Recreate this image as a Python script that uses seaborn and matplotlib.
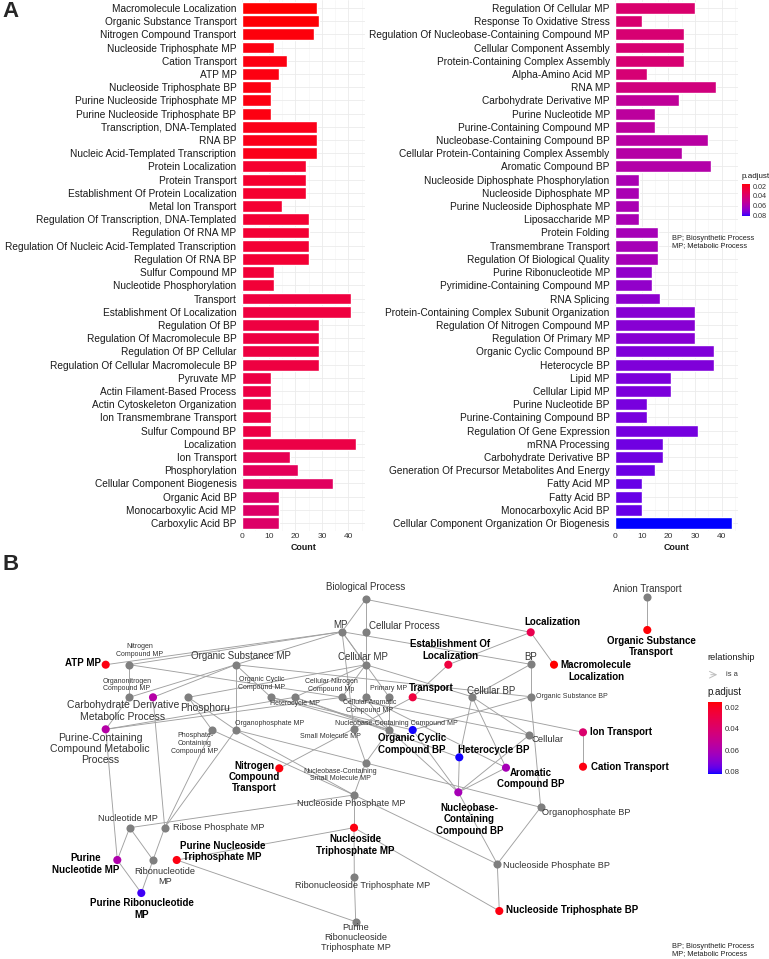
import numpy as np
import pandas as pd
import matplotlib
matplotlib.use("Agg")
import matplotlib.pyplot as plt
import seaborn as sns
from matplotlib.colors import ListedColormap, Normalize

# ---------------- Panel A data ----------------
left_terms = [
    "Macromolecule Localization", "Organic Substance Transport", "Nitrogen Compound Transport",
    "Nucleoside Triphosphate MP", "Cation Transport", "ATP MP", "Nucleoside Triphosphate BP",
    "Purine Nucleoside Triphosphate MP", "Purine Nucleoside Triphosphate BP",
    "Transcription, DNA-Templated", "RNA BP", "Nucleic Acid-Templated Transcription",
    "Protein Localization", "Protein Transport", "Establishment Of Protein Localization",
    "Metal Ion Transport", "Regulation Of Transcription, DNA-Templated", "Regulation Of RNA MP",
    "Regulation Of Nucleic Acid-Templated Transcription", "Regulation Of RNA BP",
    "Sulfur Compound MP", "Nucleotide Phosphorylation", "Transport", "Establishment Of Localization",
    "Regulation Of BP", "Regulation Of Macromolecule BP", "Regulation Of BP Cellular",
    "Regulation Of Cellular Macromolecule BP", "Pyruvate MP", "Actin Filament-Based Process",
    "Actin Cytoskeleton Organization", "Ion Transmembrane Transport", "Sulfur Compound BP",
    "Localization", "Ion Transport", "Phosphorylation", "Cellular Component Biogenesis",
    "Organic Acid BP", "Monocarboxylic Acid MP", "Carboxylic Acid BP"]
left_counts = [28, 29, 27, 12, 17, 14, 11, 11, 11, 28, 28, 28, 24, 24, 24, 15, 25, 25, 25, 25,
               12, 12, 41, 41, 29, 29, 29, 29, 11, 11, 11, 11, 11, 43, 18, 21, 34, 14, 14, 14]
left_padj = [0.0144, 0.0151, 0.0158, 0.0164, 0.0164, 0.0164, 0.0164, 0.0164, 0.0164,
             0.0178, 0.0178, 0.0178, 0.0226, 0.0226, 0.0226, 0.0233, 0.0239, 0.0239, 0.0239, 0.0239,
             0.0246, 0.0246, 0.0267, 0.0267, 0.0273, 0.0273, 0.0273, 0.0273,
             0.0280, 0.0280, 0.0280, 0.0280, 0.0280, 0.0287, 0.0321, 0.0342, 0.0362,
             0.0382, 0.0382, 0.0382]

right_terms = [
    "Regulation Of Cellular MP", "Response To Oxidative Stress",
    "Regulation Of Nucleobase-Containing Compound MP", "Cellular Component Assembly",
    "Protein-Containing Complex Assembly", "Alpha-Amino Acid MP", "RNA MP",
    "Carbohydrate Derivative MP", "Purine Nucleotide MP", "Purine-Containing Compound MP",
    "Nucleobase-Containing Compound BP", "Cellular Protein-Containing Complex Assembly",
    "Aromatic Compound BP", "Nucleoside Diphosphate Phosphorylation", "Nucleoside Diphosphate MP",
    "Purine Nucleoside Diphosphate MP", "Liposaccharide MP", "Protein Folding",
    "Transmembrane Transport", "Regulation Of Biological Quality", "Purine Ribonucleotide MP",
    "Pyrimidine-Containing Compound MP", "RNA Splicing",
    "Protein-Containing Complex Subunit Organization", "Regulation Of Nitrogen Compound MP",
    "Regulation Of Primary MP", "Organic Cyclic Compound BP", "Heterocycle BP", "Lipid MP",
    "Cellular Lipid MP", "Purine Nucleotide BP", "Purine-Containing Compound BP",
    "Regulation Of Gene Expression", "mRNA Processing", "Carbohydrate Derivative BP",
    "Generation Of Precursor Metabolites And Energy", "Fatty Acid MP", "Fatty Acid BP",
    "Monocarboxylic Acid BP", "Cellular Component Organization Or Biogenesis"]
right_counts = [30, 10, 26, 26, 26, 12, 38, 24, 15, 15, 35, 25, 36, 9, 9, 9, 9, 16, 16, 16,
                14, 14, 17, 30, 30, 30, 37, 37, 21, 21, 12, 12, 31, 18, 18, 15, 10, 10, 10, 44]
right_padj = [0.0403, 0.0410, 0.0416, 0.0416, 0.0416, 0.0423, 0.0450, 0.0530, 0.0545, 0.0545,
              0.0560, 0.0567, 0.0575, 0.0607, 0.0607, 0.0607, 0.0607, 0.0621, 0.0621, 0.0621,
              0.0675, 0.0675, 0.0689, 0.0702, 0.0702, 0.0702, 0.0716, 0.0716, 0.0723, 0.0723,
              0.0730, 0.0730, 0.0736, 0.0743, 0.0743, 0.0750, 0.0757, 0.0757, 0.0757, 0.0825]

padj_range = (0.0144, 0.0825)
padj_ticks = [0.02, 0.04, 0.06, 0.08]

# ---------------- Panel B data (GO graph) ----------------
node_ids = ["BioProc", "MP", "CellProc", "NitroMP", "ATPMP", "OrgSubMP", "CellMP", "OrganoNMP",
            "CarbMP", "Phosphoru", "PurConMP", "OrgCycMP", "HetMP", "CellNitMP", "CellAroMP",
            "PrimMP", "Transport", "EstLoc", "OrgCycBP", "HetBP", "NucConMP", "SmallMP",
            "OrgPhosMP", "PhosConMP", "NitroTrans", "NucSmallMP", "NucPhosMP", "NTPMP",
            "NucConBP", "AroBP", "OrgPhosBP", "NucPhosBP", "NTPBP", "Cellular", "CellBP", "BP",
            "OrgSubBP", "Localization", "MacroLoc", "AnionTrans", "OrgSubTrans", "IonTrans",
            "CationTrans", "NucleotideMP", "RibPhosMP", "PurNucMP", "RibonucMP", "PurRibMP",
            "PurNTPMP", "RibNTPMP", "PurRibNTPMP"]
node_labels = ["Biological Process", "MP", "Cellular Process", "Nitrogen\nCompound MP", "ATP MP",
               "Organic Substance MP", "Cellular MP", "Organonitrogen\nCompound MP",
               "Carbohydrate Derivative\nMetabolic Process", "Phosphoru",
               "Purine-Containing\nCompound Metabolic\nProcess", "Organic Cyclic\nCompound MP",
               "Heterocycle MP", "Cellular Nitrogen\nCompound Mp", "Cellular Aromatic\nCompound MP",
               "Primary MP", "Transport", "Establishment Of\nLocalization",
               "Organic Cyclic\nCompound BP", "Heterocycle BP", "Nucleobase-Containing Compound MP",
               "Small Molecule MP", "Organophosphate MP", "Phosphate-\nContaining\nCompound MP",
               "Nitrogen\nCompound\nTransport", "Nucleobase-Containing\nSmall Molecule MP",
               "Nucleoside Phosphate MP", "Nucleoside\nTriphosphate MP",
               "Nucleobase-\nContaining\nCompound BP", "Aromatic\nCompound BP",
               "Organophosphate BP", "Nucleoside Phosphate BP", "Nucleoside Triphosphate BP",
               "Cellular", "Cellular BP", "BP", "Organic Substance BP", "Localization",
               "Macromolecule\nLocalization", "Anion Transport", "Organic Substance\nTransport",
               "Ion Transport", "Cation Transport", "Nucleotide MP", "Ribose Phosphate MP",
               "Purine\nNucleotide MP", "Ribonucleotide\nMP", "Purine Ribonucleotide\nMP",
               "Purine Nucleoside\nTriphosphate MP", "Ribonucleoside Triphosphate MP",
               "Purine\nRibonucleoside\nTriphosphate MP"]
# p.adjust of enriched terms (NaN = ancestor term, not enriched)
node_padj = [np.nan, np.nan, np.nan, np.nan, 0.0164, np.nan, np.nan, np.nan,
             0.057, np.nan, 0.057, np.nan, np.nan, np.nan, np.nan,
             np.nan, 0.0267, 0.0267, 0.082, 0.082, np.nan, np.nan,
             np.nan, np.nan, 0.0158, np.nan, np.nan, 0.0164,
             0.062, 0.062, np.nan, np.nan, 0.0164, np.nan, np.nan, np.nan,
             np.nan, 0.031, 0.0144, np.nan, 0.0151, 0.040,
             0.0164, np.nan, np.nan, 0.059, np.nan, 0.080,
             0.0164, np.nan, np.nan]
edges = [("BioProc", "MP"), ("BioProc", "CellProc"), ("BioProc", "Localization"),
         ("MP", "BP"), ("MP", "CellMP"), ("MP", "OrgSubMP"), ("MP", "NitroMP"), ("MP", "ATPMP"),
         ("MP", "SmallMP"), ("MP", "PrimMP"), ("CellProc", "CellMP"),
         ("CellMP", "CellNitMP"), ("CellMP", "CellAroMP"), ("CellMP", "CellBP"),
         ("CellMP", "Phosphoru"), ("CellMP", "HetMP"), ("BP", "CellBP"), ("BP", "OrgSubBP"),
         ("OrgSubMP", "OrgSubBP"), ("OrgSubMP", "OrgCycMP"), ("OrgSubMP", "OrganoNMP"),
         ("OrgSubMP", "CarbMP"), ("OrgSubMP", "OrgPhosMP"), ("NitroMP", "OrganoNMP"),
         ("NitroMP", "CellNitMP"), ("Phosphoru", "OrgPhosMP"), ("Phosphoru", "PhosConMP"),
         ("OrgCycMP", "NucConMP"), ("HetMP", "NucConMP"), ("CellAroMP", "NucConMP"),
         ("CellNitMP", "NucConMP"), ("PrimMP", "NucConMP"), ("PurConMP", "HetMP"),
         ("PurConMP", "OrganoNMP"), ("PurConMP", "CellNitMP"), ("PurConMP", "PurNucMP"),
         ("SmallMP", "NucSmallMP"), ("NucConMP", "NucSmallMP"), ("NucSmallMP", "NucPhosMP"),
         ("OrgPhosMP", "NucPhosMP"), ("PhosConMP", "NucPhosMP"), ("OrgPhosMP", "RibPhosMP"),
         ("PhosConMP", "RibPhosMP"), ("CarbMP", "RibPhosMP"), ("OrgPhosMP", "OrgPhosBP"),
         ("NucleotideMP", "NucPhosMP"), ("NucleotideMP", "PurNucMP"), ("NucleotideMP", "RibonucMP"),
         ("RibPhosMP", "RibonucMP"), ("PurNucMP", "PurRibMP"), ("RibonucMP", "PurRibMP"),
         ("NucPhosMP", "NTPMP"), ("NTPMP", "PurNTPMP"), ("NTPMP", "RibNTPMP"),
         ("RibNTPMP", "PurRibNTPMP"), ("PurNTPMP", "PurRibNTPMP"), ("NTPMP", "NTPBP"),
         ("NucPhosMP", "NucPhosBP"), ("NucPhosBP", "NTPBP"), ("OrgPhosBP", "NucPhosBP"),
         ("NucConBP", "NucPhosBP"), ("OrgSubBP", "OrgPhosBP"), ("CellBP", "HetBP"),
         ("CellBP", "AroBP"), ("CellBP", "Cellular"), ("CellNitMP", "Cellular"),
         ("Cellular", "NucConBP"), ("HetMP", "HetBP"), ("HetBP", "NucConBP"), ("AroBP", "NucConBP"),
         ("CellAroMP", "AroBP"), ("OrgCycMP", "OrgCycBP"), ("OrgCycBP", "OrgSubBP"),
         ("OrgCycBP", "NucConBP"), ("NucConMP", "NucConBP"), ("Localization", "EstLoc"),
         ("Localization", "MacroLoc"), ("EstLoc", "Transport"), ("Transport", "IonTrans"),
         ("Transport", "NitroTrans"), ("IonTrans", "CationTrans"), ("AnionTrans", "OrgSubTrans")]

# ---------------- Layout (graph layout coordinates, label placement) ----------------
layout_x = [365.7, 342, 365.7, 129.3, 105.7, 235.7, 365.7, 129.3, 153, 188.3, 105.7, 271, 294.7,
            342, 365.7, 389.3, 412.7, 448.3, 412.7, 459.3, 389.3, 354, 235.7, 212, 279.3, 365.7,
            354, 354, 458.3, 506, 540.7, 497.3, 499.3, 529.3, 472, 530.7, 530.7, 530.7, 554,
            647.3, 647.3, 583, 583, 129.7, 164.7, 117.3, 153, 141.3, 176.7, 354.3, 355.7]
layout_y = [599.3, 631.7, 632.3, 664.7, 664.7, 664.7, 664.7, 697.3, 697.3, 697.3, 729.3, 697.3,
            697.3, 697.3, 697.3, 697.3, 697.3, 664.7, 730, 757.3, 730, 729.3, 730, 730, 768.3,
            762.7, 795, 827.7, 792.3, 767.7, 807.3, 864, 911, 735, 696.7, 664.3, 696.7, 632.3,
            664.7, 597.3, 630, 732.3, 766.7, 827.7, 827.7, 860, 860, 893, 860, 877.3, 921.7]
label_x = [365.7, 340, 404, 140, 83, 241, 363, 127, 123, 205, 100, 262, 295, 331, 370, 389,
           431.7, 450, 411.7, 494, 396.7, 330, 269.3, 195, 254, 340, 351.7, 355, 469.3, 531,
           542.5, 502.7, 506.5, 548, 490.7, 530.5, 535.5, 552.7, 596, 647.7, 651.7, 620.7, 630,
           128.3, 218.7, 85.3, 164.7, 141.7, 222.7, 363, 355.7]
label_y = [586.5, 624.5, 625.7, 650.5, 663.5, 656.3, 657, 685, 711, 707.7, 749, 683.3, 703.3,
           685.2, 706.7, 688.7, 688.3, 650, 744, 750, 723.3, 736.7, 723.3, 743.3, 777, 775,
           803.3, 845, 819.3, 778.5, 812.7, 865.3, 910.3, 739.3, 691, 657.3, 696.7, 621.7, 671,
           589.3, 646.3, 732, 766.7, 818.3, 827.3, 864, 876.3, 909, 851.3, 885.7, 937.7]
label_left = {"OrgPhosBP", "NucPhosBP", "NTPBP", "OrgSubBP"}
label_regular = {"CarbMP", "PurConMP"}
label_size = {"NitroMP": 5, "OrganoNMP": 5, "OrgCycMP": 5, "HetMP": 5, "CellNitMP": 5,
              "CellAroMP": 5, "PrimMP": 5, "NucConMP": 5, "SmallMP": 5, "OrgPhosMP": 5,
              "PhosConMP": 5, "NucSmallMP": 5, "OrgSubBP": 5, "CarbMP": 7.5, "PurConMP": 7.6,
              "Phosphoru": 7.5, "NucPhosMP": 6.6, "OrgPhosBP": 6.6, "NucPhosBP": 6.6,
              "NucleotideMP": 6.6, "RibPhosMP": 6.6, "RibonucMP": 6.6, "RibNTPMP": 6.6,
              "PurRibNTPMP": 6.6, "Cellular": 6.8}

# ---------------- colour scale (Lab interpolation red -> blue, like ggplot) ----------------
def _srgb_to_lab(rgb):
    c = np.asarray(rgb, float)
    lin = np.where(c <= 0.04045, c / 12.92, ((c + 0.055) / 1.055) ** 2.4)
    M = np.array([[0.4124, 0.3576, 0.1805], [0.2126, 0.7152, 0.0722], [0.0193, 0.1192, 0.9505]])
    xyz = M @ lin / np.array([0.95047, 1.0, 1.08883])
    d = 6 / 29
    f = np.where(xyz > d ** 3, np.cbrt(xyz), xyz / (3 * d * d) + 4 / 29)
    return np.array([116 * f[1] - 16, 500 * (f[0] - f[1]), 200 * (f[1] - f[2])])

def _lab_to_srgb(lab):
    L, a, b = lab
    fy = (L + 16) / 116
    fx, fz = fy + a / 500, fy - b / 200
    d = 6 / 29
    f = np.array([fx, fy, fz])
    xyz = np.where(f > d, f ** 3, 3 * d * d * (f - 4 / 29)) * np.array([0.95047, 1.0, 1.08883])
    Minv = np.array([[3.2406, -1.5372, -0.4986], [-0.9689, 1.8758, 0.0415], [0.0557, -0.2040, 1.0570]])
    lin = np.clip(Minv @ xyz, 0, 1)
    return np.where(lin <= 0.0031308, 12.92 * lin, 1.055 * lin ** (1 / 2.4) - 0.055)

_l0, _l1 = _srgb_to_lab([1, 0, 0]), _srgb_to_lab([0, 0, 1])
cmap = ListedColormap([_lab_to_srgb(_l0 + (_l1 - _l0) * t) for t in np.linspace(0, 1, 256)])
norm = Normalize(*padj_range)

# ---------------- figure ----------------
sns.set_theme(style="white")
plt.rcParams["font.family"] = ["Liberation Sans", "DejaVu Sans"]
W, H = 769, 959
fig = plt.figure(figsize=(W / 100, H / 100), dpi=100)

def px_axes(x0, y0, x1, y1):
    return fig.add_axes([x0 / W, 1 - y1 / H, (x1 - x0) / W, (y1 - y0) / H])

def bar_panel(ax, terms, counts, padj):
    df = pd.DataFrame({"Description": terms, "Count": counts, "p.adjust": padj})
    cols = [cmap(norm(p)) for p in padj]
    sns.barplot(data=df, x="Count", y="Description", hue="Description", palette=cols,
                legend=False, dodge=False, width=0.9, orient="h", ax=ax, saturation=1)
    ax.set_xlim(0, 46.2)
    ax.set_ylim(39.6, -0.6)
    ax.set_xticks([0, 10, 20, 30, 40])
    ax.set_xticks([5, 15, 25, 35, 45], minor=True)
    ax.grid(True, which="major", color="#EBEBEB", lw=0.6)
    ax.grid(True, which="minor", axis="x", color="#F3F3F3", lw=0.4)
    ax.set_axisbelow(True)
    for s in ax.spines.values():
        s.set_visible(False)
    ax.tick_params(axis="y", labelsize=7.3, length=0, pad=4, labelcolor="#1a1a1a")
    ax.tick_params(axis="x", labelsize=6.0, length=0, pad=1.5, labelcolor="#333333")
    ax.set_ylabel("")
    ax.set_xlabel("Count", fontsize=6.4, fontweight="bold", labelpad=1, color="#1a1a1a")

axL = px_axes(242, 0, 365, 531)
bar_panel(axL, left_terms, left_counts, left_padj)
axR = px_axes(615.3, 0, 738, 531)
bar_panel(axR, right_terms, right_counts, right_padj)

def colorbar(x0, y0, x1, y1, fs):
    cax = px_axes(x0, y0, x1, y1)
    cb = fig.colorbar(plt.cm.ScalarMappable(norm=norm, cmap=cmap), cax=cax)
    cb.set_ticks(padj_ticks)
    cb.set_ticklabels([f"{t:.2f}" for t in padj_ticks])
    cb.outline.set_visible(False)
    cax.invert_yaxis()
    cax.tick_params(length=0, labelsize=fs, pad=2, labelcolor="#333333")
    return cax

colorbar(742.3, 183.5, 750, 216.5, 5.2)
fig.text(742 / W, 1 - 176.5 / H, "p.adjust", fontsize=5.8, va="center", ha="left", color="#1a1a1a")
fig.text(671.7 / W, 1 - 242.5 / H, "BP; Biosynthetic Process\nMP; Metabolic Process",
         fontsize=5.3, va="center", ha="left", linespacing=1.0, color="#222222")
fig.text(2 / W, 1 - 1 / H, "A", fontsize=16, fontweight="bold", va="top", ha="left")
fig.text(3 / W, 1 - 554 / H, "B", fontsize=16, fontweight="bold", va="top", ha="left")

# ---------------- Panel B network ----------------
axN = px_axes(0, 560, W, H)
axN.set_xlim(0, W)
axN.set_ylim(H, 560)
axN.axis("off")
pos = {n: (x, y) for n, x, y in zip(node_ids, layout_x, layout_y)}
for a, b in edges:
    axN.plot([pos[a][0], pos[b][0]], [pos[a][1], pos[b][1]], color="#A0A0A0", lw=0.65,
             zorder=1, solid_capstyle="round")
ndf = pd.DataFrame({"id": node_ids, "x": layout_x, "y": layout_y, "p": node_padj})
gray = ndf[ndf["p"].isna()]
enr = ndf[ndf["p"].notna()]
sns.scatterplot(data=gray, x="x", y="y", color="#7F7F7F", s=34, linewidth=0, ax=axN, zorder=3)
sns.scatterplot(data=enr, x="x", y="y", hue="p", palette=cmap, hue_norm=norm, s=34,
                linewidth=0, ax=axN, zorder=3, legend=False)
axN.set_xlabel("")
axN.set_ylabel("")
for n, lab, lx, ly, p in zip(node_ids, node_labels, label_x, label_y, node_padj):
    bold = (not np.isnan(p)) and n not in label_regular
    fs = label_size.get(n, 7.0)
    axN.text(lx, ly, lab, ha="left" if n in label_left else "center", va="center",
             fontsize=fs, fontweight="bold" if bold else "normal",
             color="black" if bold else "#333333", linespacing=1.15, zorder=4)

# legend for panel B
fig.text(707 / W, 1 - 657.3 / H, "relationship", fontsize=6.6, va="center", ha="left", color="#1a1a1a")
axN.annotate("", xy=(720, 674.7), xytext=(708, 674.7),
             arrowprops=dict(arrowstyle="->", color="#BDBDBD", lw=0.7))
axN.text(726.5, 674.7, "is a", fontsize=5.4, va="center", ha="left", color="#333333")
fig.text(707.7 / W, 1 - 692.3 / H, "p.adjust", fontsize=7, va="center", ha="left", color="#1a1a1a")
colorbar(708.3, 701.7, 722.3, 774, 5.6)
fig.text(671.7 / W, 1 - 950.3 / H, "BP; Biosynthetic Process\nMP; Metabolic Process",
         fontsize=5.3, va="center", ha="left", linespacing=1.0, color="#222222")

fig.savefig("out.png", dpi=100)
